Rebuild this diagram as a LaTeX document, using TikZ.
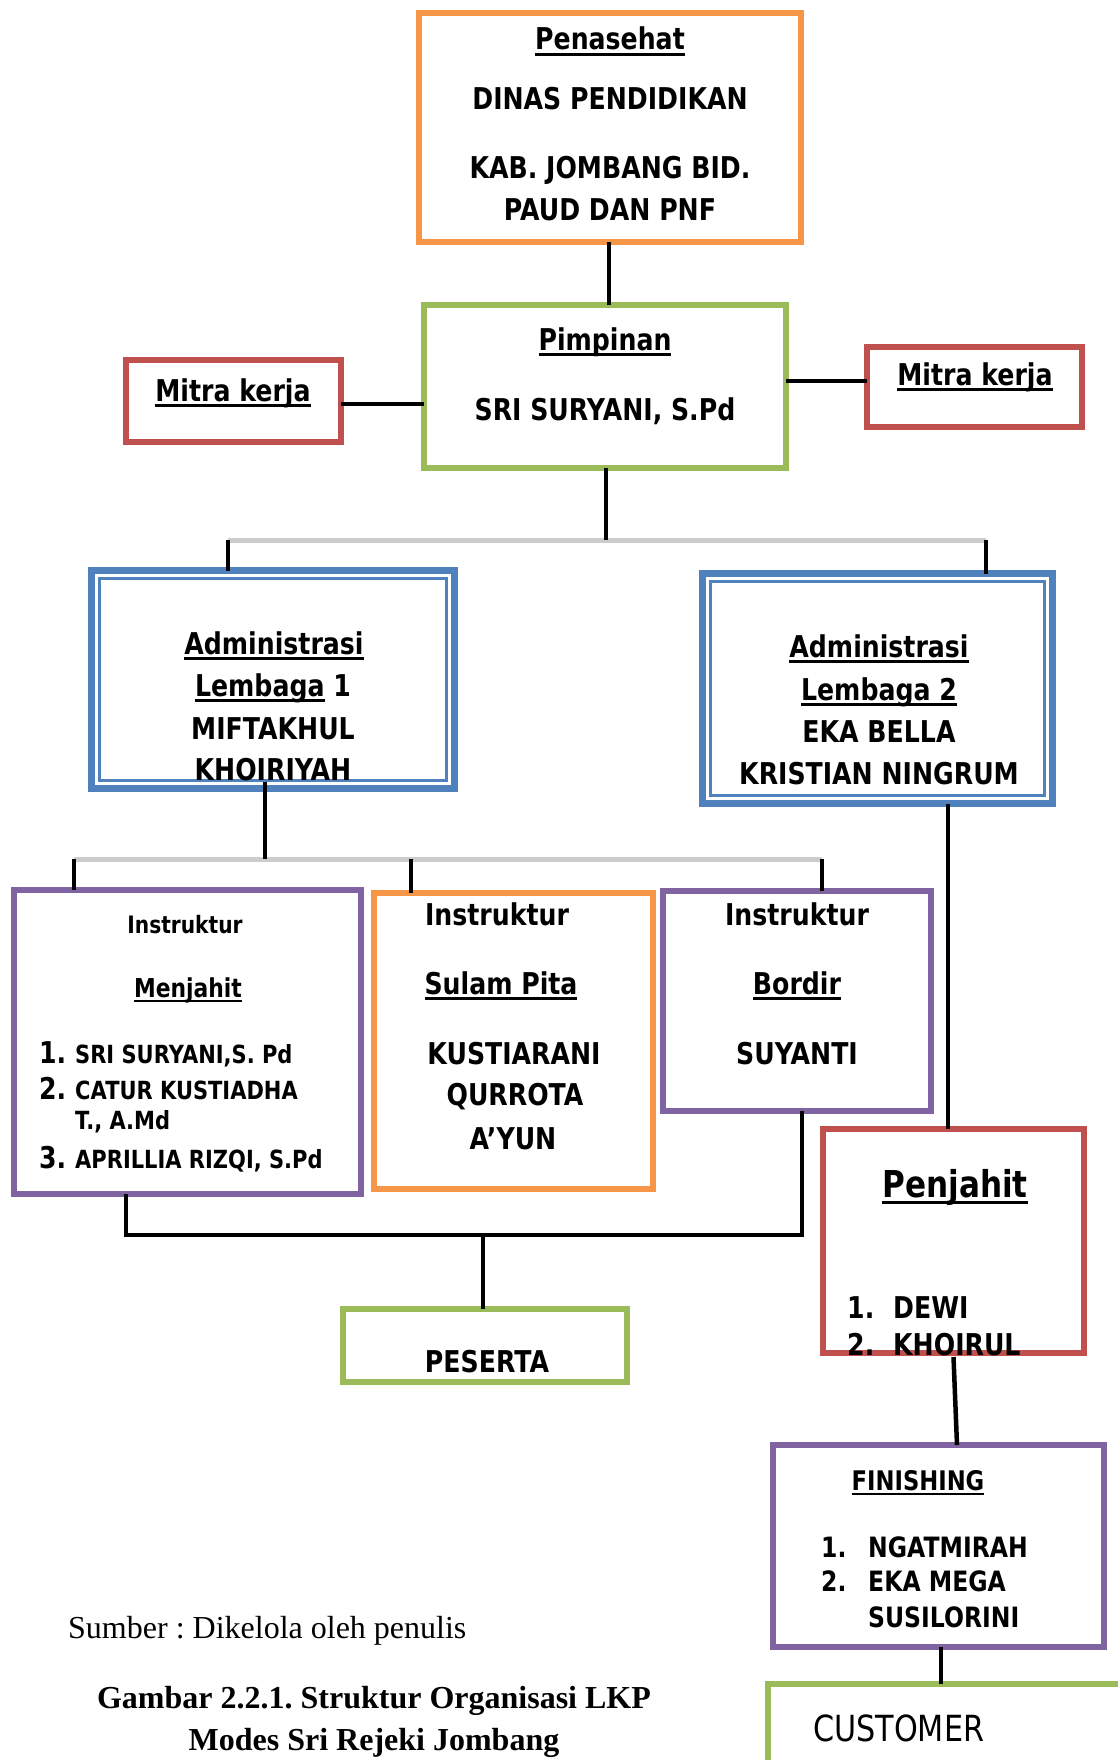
\documentclass[tikz,border=0pt]{standalone}
\usepackage{fontspec}
\newfontfamily\tahfont[FakeStretch=0.84]{DejaVu Sans}
\newfontfamily\timesf{Liberation Serif}
\definecolor{orgO}{HTML}{F79646}
\definecolor{orgG}{HTML}{9BBB59}
\definecolor{orgR}{HTML}{C0504D}
\definecolor{orgB}{HTML}{4F81BD}
\definecolor{orgP}{HTML}{8064A2}
\frenchspacing
\newcommand\myul[1]{\setbox0\hbox{#1}\rlap{\rule[-0.2em]{\wd0}{0.09em}}\box0\relax}
\tikzset{
  orgbox/.style={draw, rectangle, line width=6pt, inner sep=0pt, outer sep=0pt},
  conn/.style={line width=4.5pt, black},
  tie/.style={line width=5pt, gray!40},
  fs/.style={font=\tahfont\bfseries\fontsize{#1}{#1}\selectfont},
  txt/.style={inner sep=0pt, anchor=base, fs=30},
  txtL/.style={txt, anchor=base west},
}
\begin{document}
\begin{tikzpicture}[x=1pt,y=-1pt]
\useasboundingbox (0,0) rectangle (1118,1760);
\fill[white] (0,0) rectangle (1118,1760);
\clip (0,0) rectangle (1118,1760);

% boxes
\node[orgbox, draw=orgO, minimum width=382, minimum height=229] (pen) at (610,127.5) {};
\node[orgbox, draw=orgG, minimum width=362, minimum height=163] (pim) at (605,386.5) {};
\node[orgbox, draw=orgR, minimum width=215, minimum height=82] (mitL) at (233.5,401) {};
\node[orgbox, draw=orgR, minimum width=215, minimum height=80] (mitR) at (974.5,387) {};
\node[orgbox, draw=orgB, line width=7pt, minimum width=363, minimum height=218] (adm1) at (273,679.5) {};
\node[orgbox, draw=orgB, line width=7pt, minimum width=350, minimum height=230] (adm2) at (877.5,688.5) {};
\draw[orgB, line width=2.5pt] ([shift={(8pt,-8pt)}]adm1.north west) rectangle ([shift={(-8pt,8pt)}]adm1.south east);
\draw[orgB, line width=2.5pt] ([shift={(8pt,-8pt)}]adm2.north west) rectangle ([shift={(-8pt,8pt)}]adm2.south east);
\node[orgbox, draw=orgP, minimum width=347, minimum height=304] (menj) at (187.5,1042) {};
\node[orgbox, draw=orgO, minimum width=279, minimum height=296] (sul) at (513.5,1041) {};
\node[orgbox, draw=orgP, minimum width=268, minimum height=220] (bor) at (797,1001) {};
\node[orgbox, draw=orgR, minimum width=261, minimum height=224] (penj) at (953.5,1241) {};
\node[orgbox, draw=orgG, minimum width=284, minimum height=73] (pes) at (485,1345.5) {};
\node[orgbox, draw=orgP, minimum width=331, minimum height=202] (fin) at (938.5,1546) {};
\node[orgbox, draw=orgG, minimum width=372, minimum height=116] (cust) at (954,1742) {};

% connectors
\coordinate (j1) at (606,540);
\coordinate (j1L) at (228,540);
\coordinate (j1R) at (986,540);
\coordinate (j2) at (265,859);
\coordinate (j2L) at (74,859);
\coordinate (j2M) at (411,859);
\coordinate (j2R) at (822,859);
\coordinate (j3) at (483,1235);
\coordinate (j3L) at (126,1235);
\coordinate (j3R) at (802,1235);

\draw[conn] (pen.south -| 609,0) -- (pim.north -| 609,0);
\draw[conn] (mitL.east |- 0,404) -- (pim.west |- 0,404);
\draw[conn] (pim.east |- 0,381) -- (mitR.west |- 0,381);
\draw[tie] (j1L) -- (j1R);
\draw[conn] (pim.south -| j1) -- (j1);
\draw[conn] (j1L) -- (j1L |- adm1.north);
\draw[conn] (j1R) -- (j1R |- adm2.north);
\draw[tie] (j2L) -- (j2R);
\draw[conn] (j2 |- 0,782) -- (j2);
\draw[conn] (j2L) -- (j2L |- menj.north);
\draw[conn] (j2M) -- (j2M |- sul.north);
\draw[conn] (j2R) -- (j2R |- bor.north);
\draw[conn] (adm2.south -| 948,0) -- (penj.north -| 948,0);
\draw[conn] (menj.south -| j3L) -- (j3L) -- (j3R) -- (bor.south -| j3R);
\draw[conn] (j3) -- (j3 |- pes.north);
\draw[conn] ([yshift=-4pt]penj.south) -- (fin.north -| 957,0);
\draw[conn] (fin.south -| 941,0) -- (cust.north -| 941,0);

% texts
\node[txt] (penT1) at (610,50) {\myul{Penasehat}};
\node[txt] (penT2) at (610,110) {DINAS PENDIDIKAN};
\node[txt] (penT3) at (610,179) {KAB. JOMBANG BID.};
\node[txt] (penT4) at (610,221) {PAUD DAN PNF};

\node[txt] (pimT1) at (605,350) {\myul{Pimpinan}};
\node[txt] (pimT2) at (605,420) {SRI SURYANI, S.Pd};

\node[txt] (mitLT) at (233,401) {\myul{Mitra kerja}};
\node[txt] (mitRT) at (975,385) {\myul{Mitra kerja}};

\node[txt] (a1T1) at (274,654) {\myul{Administrasi}};
\node[txt] (a1T2) at (273,696) {\myul{Lembaga} 1};
\node[txt] (a1T3) at (273,739) {MIFTAKHUL};
\node[txt] (a1T4) at (273,780) {KHOIRIYAH};

\node[txt] (a2T1) at (879,657) {\myul{Administrasi}};
\node[txt] (a2T2) at (879,700) {\myul{Lembaga 2}};
\node[txt] (a2T3) at (879,742) {EKA BELLA};
\node[txt] (a2T4) at (879,784) {KRISTIAN NINGRUM};

\node[txt, fs=24] (mjT1) at (185,933) {Instruktur};
\node[txt, fs=26] (mjT2) at (188,997) {\myul{Menjahit}};
\node[txtL, fs=30] (mjN1) at (39,1063) {1.};
\node[txtL, fs=25] (mjL1) at (75,1063) {SRI SURYANI,S. Pd};
\node[txtL, fs=30] (mjN2) at (39,1099) {2.};
\node[txtL, fs=25] (mjL2) at (75,1099) {CATUR KUSTIADHA};
\node[txtL, fs=25] (mjL2b) at (75,1129) {T., A.Md};
\node[txtL, fs=30] (mjN3) at (39,1168) {3.};
\node[txtL, fs=25] (mjL3) at (75,1168) {APRILLIA RIZQI, S.Pd};

\node[txt] (slT1) at (497,925) {Instruktur};
\node[txt] (slT2) at (501,994) {\myul{Sulam Pita}};
\node[txt] (slT3) at (514,1064) {KUSTIARANI};
\node[txt] (slT4) at (515,1105) {QURROTA};
\node[txt] (slT5) at (513,1149) {A’YUN};

\node[txt] (bdT1) at (797,925) {Instruktur};
\node[txt] (bdT2) at (797,994) {\myul{Bordir}};
\node[txt] (bdT3) at (797,1064) {SUYANTI};

\node[txt, fs=37] (pjT1) at (955,1197) {\myul{Penjahit}};
\node[txtL] (pjN1) at (847,1318) {1.};
\node[txtL] (pjL1) at (893,1318) {DEWI};
\node[txtL] (pjN2) at (847,1355) {2.};
\node[txtL] (pjL2) at (893,1355) {KHOIRUL};

\node[txt] (pesT) at (487,1372) {PESERTA};

\node[txt, fs=27] (fiT1) at (918,1490) {\myul{FINISHING}};
\node[txtL, fs=28] (fiN1) at (821,1557) {1.};
\node[txtL, fs=28] (fiL1) at (868,1557) {NGATMIRAH};
\node[txtL, fs=28] (fiN2) at (821,1591) {2.};
\node[txtL, fs=28] (fiL2) at (868,1591) {EKA MEGA};
\node[txtL, fs=28] (fiL2b) at (868,1627) {SUSILORINI};

\node[inner sep=0pt, anchor=base west, font=\tahfont\fontsize{36}{36}\selectfont] (cuT) at (813,1741) {CUSTOMER};

\node[inner sep=0pt, anchor=base west, font=\timesf\fontsize{32}{32}\selectfont] (src) at (68,1638) {Sumber : Dikelola oleh penulis};
\node[inner sep=0pt, anchor=base, font=\timesf\bfseries\fontsize{32}{32}\selectfont] (cap1) at (374,1708) {Gambar 2.2.1. Struktur Organisasi LKP};
\node[inner sep=0pt, anchor=base, font=\timesf\bfseries\fontsize{32}{32}\selectfont] (cap2) at (374,1750) {Modes Sri Rejeki Jombang};
\end{tikzpicture}
\end{document}
